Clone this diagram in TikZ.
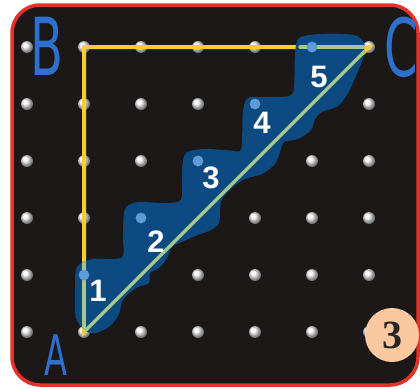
\documentclass[tikz,border=0pt]{standalone}
\usepackage{fontspec}
\setmainfont{Liberation Sans}
\newfontfamily\handfont{DejaVu Sans}
\newfontfamily\serifbold{Liberation Serif}
\definecolor{boardbg}{RGB}{27,24,23}
\definecolor{frame}{RGB}{232,48,42}
\definecolor{band}{RGB}{245,205,52}
\definecolor{bandg}{RGB}{165,198,140}
\definecolor{blob}{RGB}{14,74,130}
\definecolor{pegblue}{RGB}{95,155,215}
\definecolor{ink}{RGB}{45,112,205}
\definecolor{peach}{RGB}{252,200,160}
\tikzset{
  peg/.style={ball color=white!92!gray},
  bluepeg/.style={fill=pegblue},
  yband/.style={draw=band,line width=4,line cap=round},
  gband/.style={draw=bandg,line width=3.4,line cap=round},
  num/.style={text=white,font=\bfseries\fontsize{31}{31}\selectfont,inner sep=0},
  hand/.style={text=ink,font=\handfont\fontsize{80}{80}\selectfont,inner sep=0,xscale=0.6}
}
\def\blobpath{plot[smooth cycle, tension=0.5] coordinates {
(86,331) (76,318) (75,290) (77,267) (92,259) (112,259) (123,256) (123,235) (125,209)
(138,202) (160,203) (178,202) (182,195) (182,170) (186,153) (203,149) (225,150) (240,151)
(242,140) (243,112) (248,98) (268,97) (289,96) (294,88) (295,55) (299,38) (320,34)
(345,34) (359,37) (365,47) (362,61) (355,78) (348,93) (338,106) (322,112) (315,119)
(311,130) (298,139) (284,142) (280,152) (275,164) (262,174) (248,178) (238,183) (229,191)
(222,199) (220,209) (219,223) (211,230) (198,235) (186,240) (172,247) (167,258) (159,268)
(150,273) (149,283) (138,287) (128,294) (122,302) (119,314) (110,326) (96,333)}}
\begin{document}
\begin{tikzpicture}[x=1pt,y=-1pt]
\useasboundingbox (0,0) rectangle (420,388);
\clip (0,0) rectangle (420,388);
\fill[white] (0,0) rectangle (420,388);
\fill[boardbg, rounded corners=28] (12,5) rectangle (418,385);
\coordinate (A) at (84,332);
\coordinate (B) at (84,47);
\coordinate (C) at (369,47);
% pegs
\foreach \i in {0,...,6}{
  \foreach \j in {0,...,5}{
    \shade[peg] (27+57*\i,47+57*\j) circle (6);
  }
}
% rubber band triangle
\draw[yband] (A) -- (B) -- (C) -- cycle;
% blob
\fill[blob] \blobpath;
\begin{scope}
  \clip \blobpath;
  \draw[gband] (A) -- (C);
  \draw[gband] (84,260) -- (A);
  \draw[gband] (300,47) -- (C);
\end{scope}
% blue pegs
\foreach \k in {0,...,4}{
  \fill[bluepeg] (84+57*\k,275-57*\k) circle (5.4);
}
% numbers
\node[num] (n1) at (98,291) {1};
\node[num] (n2) at (156,242) {2};
\node[num] (n3) at (211,178) {3};
\node[num] (n4) at (262,123) {4};
\node[num] (n5) at (319,77) {5};
% frame
\draw[frame, line width=3.5, rounded corners=28] (12,5) rectangle (418,385);
% handwritten vertex labels
\node[hand] (lb) at (47,46) {B};
\node[hand] (lc) at (401,47) {C};
\node[hand, font=\handfont\fontsize{56}{56}\selectfont] (la) at (56,355) {A};
% badge
\node[circle, fill=peach, minimum size=54, inner sep=0] (badge) at (392,335) {};
\node[font=\serifbold\bfseries\fontsize{40}{40}\selectfont, text=black!85, inner sep=0] (badgenum) at (badge) {3};
\end{tikzpicture}
\end{document}
